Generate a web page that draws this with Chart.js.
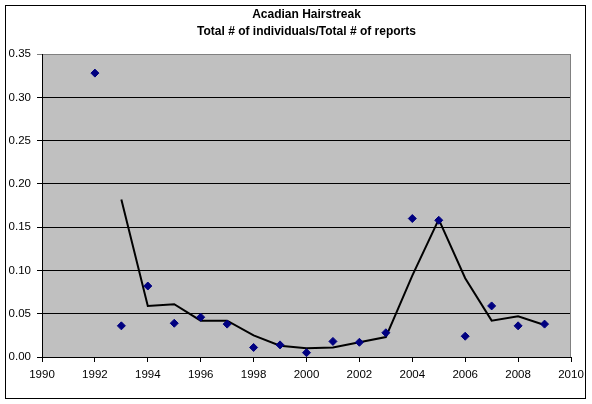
<!DOCTYPE html>
<html lang="en">
<head>
    <meta charset="UTF-8">
    <title>Acadian Hairstreak</title>
    <script src="https://cdn.jsdelivr.net/npm/chart.js"></script>
    <style>
        body { margin: 0; background: #ffffff; }
        canvas { display: block; }
    </style>
</head>
<body>
    <canvas id="chart" width="592" height="404"></canvas>
    <script>
        // Values
        const years = [1992, 1993, 1994, 1995, 1996, 1997, 1998, 1999, 2000,
                       2001, 2002, 2003, 2004, 2005, 2006, 2007, 2008, 2009];
        const ratios = [0.328, 0.036, 0.082, 0.039, 0.046, 0.038, 0.011, 0.014, 0.005,
                        0.018, 0.017, 0.028, 0.160, 0.158, 0.024, 0.059, 0.036, 0.038];

        // Moving-average trend line, as drawn in the picture
        const trendYears = [1993, 1994, 1995, 1996, 1997, 1998, 1999, 2000,
                            2001, 2002, 2003, 2004, 2005, 2006, 2007, 2008, 2009];
        const trendValues = [0.182, 0.059, 0.061, 0.042, 0.042, 0.025, 0.013, 0.010,
                             0.011, 0.017, 0.023, 0.094, 0.159, 0.091, 0.042, 0.047, 0.037];

        const titleLines = ['Acadian Hairstreak', 'Total # of individuals/Total # of reports'];

        const frame = {
            id: 'frame',
            beforeDraw(chart) {
                const ctx = chart.ctx;
                const a = chart.chartArea;
                ctx.save();
                ctx.fillStyle = '#ffffff';
                ctx.fillRect(0, 0, chart.width, chart.height);
                ctx.strokeStyle = '#000000';
                ctx.lineWidth = 1;
                ctx.strokeRect(5.5, 5.5, 580, 393);
                ctx.fillStyle = '#c0c0c0';
                ctx.fillRect(a.left, a.top, a.right - a.left, a.bottom - a.top);
                ctx.restore();
            },
            afterDraw(chart) {
                const ctx = chart.ctx;
                const a = chart.chartArea;
                ctx.save();
                ctx.strokeStyle = '#808080';
                ctx.lineWidth = 1;
                ctx.beginPath();
                ctx.moveTo(a.right - 0.5, a.top);
                ctx.lineTo(a.right - 0.5, a.bottom);
                ctx.stroke();
                ctx.restore();
            }
        };

        const tickFont = { family: 'Liberation Sans, Arial, sans-serif', size: 11.5 };

        const ctx = document.getElementById('chart').getContext('2d');
        new Chart(ctx, {
            type: 'scatter',
            data: {
                datasets: [{
                    label: 'Ratio',
                    data: years.map((y, i) => ({ x: y, y: ratios[i] })),
                    backgroundColor: '#000080',
                    borderColor: '#000080',
                    pointStyle: 'rectRot',
                    pointRadius: 4,
                    pointHoverRadius: 4
                }, {
                    label: 'Trend',
                    data: trendYears.map((y, i) => ({ x: y, y: trendValues[i] })),
                    showLine: true,
                    borderColor: '#000000',
                    borderWidth: 2,
                    pointRadius: 0,
                    tension: 0
                }]
            },
            options: {
                responsive: false,
                animation: false,
                devicePixelRatio: 1,
                layout: { padding: { left: 0, right: 21, top: 0, bottom: 0 } },
                plugins: {
                    legend: { display: false },
                    tooltip: { enabled: false },
                    title: {
                        display: true,
                        fullSize: false,
                        text: titleLines,
                        color: '#000000',
                        font: { family: 'Liberation Sans, Arial, sans-serif', size: 12, weight: 'bold', lineHeight: 1.42 },
                        padding: { top: 6.5, bottom: 13.5 }
                    }
                },
                scales: {
                    x: {
                        type: 'linear',
                        min: 1990,
                        max: 2010,
                        afterFit(scale) { scale.height = 47; },
                        ticks: {
                            stepSize: 2,
                            color: '#000000',
                            padding: 6,
                            maxRotation: 0,
                            font: tickFont,
                            callback: v => String(v)
                        },
                        grid: { drawOnChartArea: false, drawTicks: true, tickLength: 5, color: '#000000' },
                        border: { color: '#000000', width: 1 }
                    },
                    y: {
                        min: 0,
                        max: 0.35,
                        afterFit(scale) { scale.width = 42; },
                        ticks: {
                            stepSize: 0.05,
                            color: '#000000',
                            padding: 6,
                            font: tickFont,
                            callback: v => v.toFixed(2)
                        },
                        grid: {
                            tickLength: 5,
                            color: c => (c.tick && c.tick.value >= 0.349) ? '#808080' : '#000000'
                        },
                        border: { color: '#000000', width: 1 }
                    }
                }
            },
            plugins: [frame]
        });
    </script>
</body>
</html>
